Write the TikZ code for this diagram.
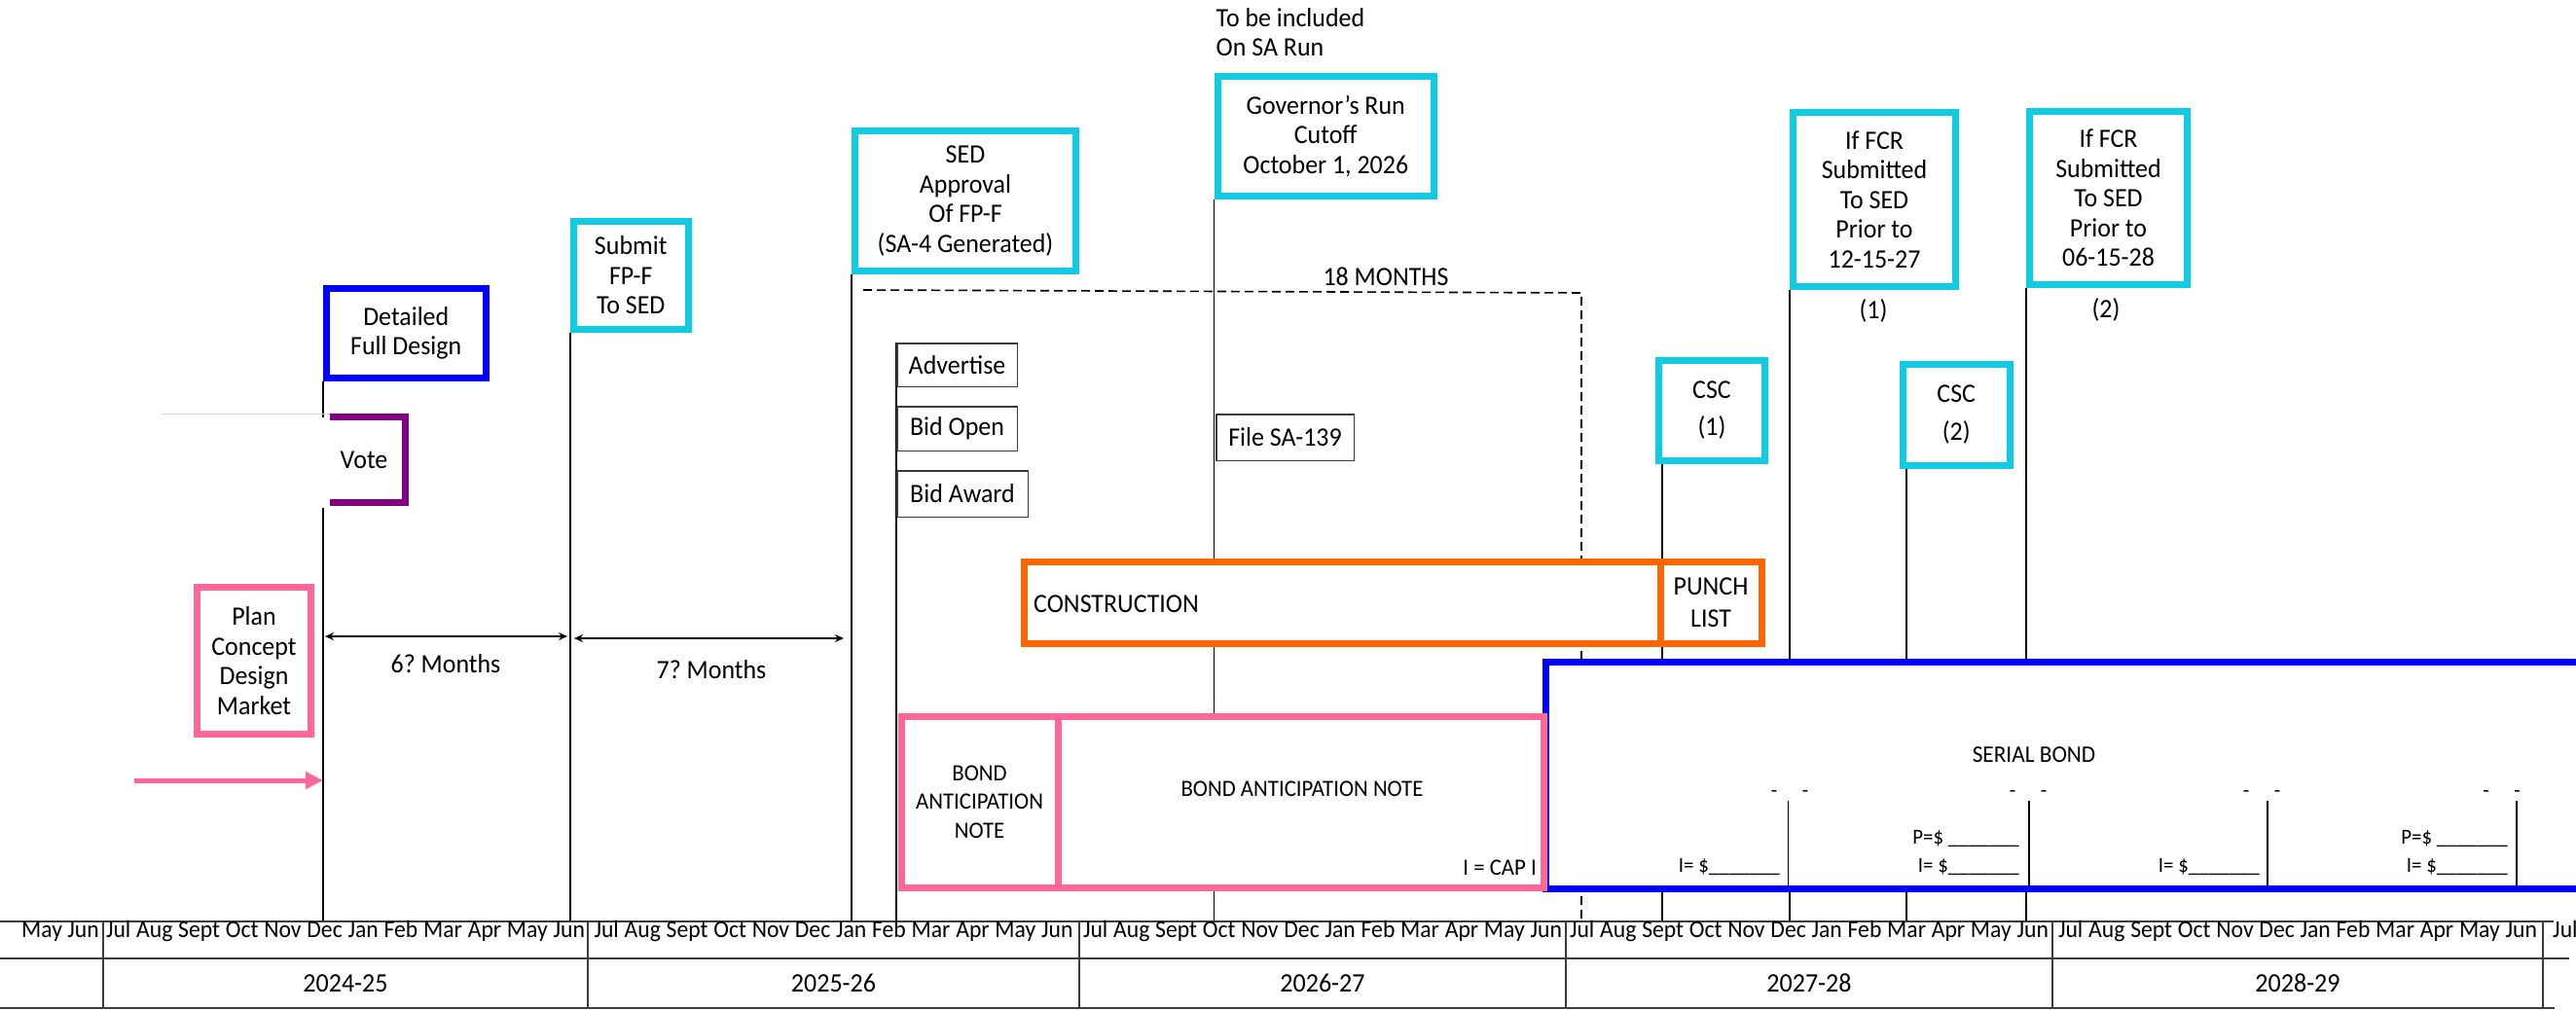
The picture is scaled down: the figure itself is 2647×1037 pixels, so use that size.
\documentclass[tikz,border=0pt]{standalone}
\usepackage{fontspec}
\setmainfont{Carlito}[FakeStretch=0.95]
\frenchspacing
\usetikzlibrary{arrows.meta}
\definecolor{pinkc}{RGB}{255,102,153}
\definecolor{cyanc}{RGB}{17,203,226}
\definecolor{bluec}{RGB}{0,0,255}
\definecolor{orangec}{RGB}{255,102,0}
\definecolor{purplec}{RGB}{128,0,128}
\definecolor{lavc}{RGB}{228,200,228}
\definecolor{gridc}{RGB}{60,60,60}
\newcommand\fsMain{\fontsize{27.3pt}{30.5pt}\selectfont}
\newcommand\fsBan{\fontsize{24pt}{29.5pt}\selectfont}
\newcommand\fsSer{\fontsize{24.5pt}{28pt}\selectfont}
\newcommand\fsSm{\fontsize{22pt}{25pt}\selectfont}
\newcommand\fsMonth{\fontsize{24.9pt}{28pt}\selectfont}
\newcommand\fsYear{\fontsize{27.4pt}{30pt}\selectfont}
\newcommand\monthrow{\makebox[492pt][s]{Jul Aug Sept Oct Nov Dec Jan Feb Mar Apr May Jun}}
\pgfdeclarelayer{bg}
\pgfsetlayers{bg,main}
\begin{document}
\begin{tikzpicture}[x=1pt,y=-1pt,
  every node/.style={inner sep=0pt, font=\fsMain},
  cbox/.style={draw=cyanc, line width=7pt, fill=white, align=center},
  bbox/.style={draw=bluec, line width=7pt, fill=white, align=center},
  pbox/.style={draw=pinkc, line width=7pt, fill=white, align=center},
  obox/.style={draw=orangec, line width=7pt, fill=white, align=center},
  sbox/.style={draw=gridc, line width=1.5pt, fill=white, align=center},
  vline/.style={draw=black, line width=1.6pt},
  gridline/.style={draw=gridc, line width=2pt},
  dashline/.style={draw=black, line width=1.6pt, dash pattern=on 9pt off 5pt},
  marrow/.style={draw=black, line width=1.6pt, {Stealth[length=9pt,width=8pt]}-{Stealth[length=9pt,width=8pt]}},
  pinkarrow/.style={draw=pinkc, line width=5pt, -{Triangle[length=18pt,width=17pt]}},
  smalltxt/.style={font=\fsSm, anchor=base east}
]
\clip (0,0) rectangle (2647,1037);
\begin{pgfonlayer}{bg}
\fill[white] (0,0) rectangle (2647,1037);
\end{pgfonlayer}

% ---------- time axis table ----------
\coordinate (axis) at (0,947);
\draw[gridline] (axis) -- (2624,947);
\draw[gridline] (0,984.5) -- (2640,984.5);
\draw[gridline] (0,1035.5) -- (2625,1035.5);
\foreach \x in {106,604,1109,1609,2109,2613} \draw[gridline] (\x,947) -- (\x,1036);
\foreach \l/\r/\yr [count=\i] in {106/604/2024-25,604/1109/2025-26,1109/1609/2026-27,1609/2109/2027-28,2109/2613/2028-29}{
  \node[font=\fsMonth, anchor=base] (mon\i) at ({(\l+\r)/2},963.5) {\monthrow};
  \node[font=\fsYear, anchor=base] (yr\i) at ({(\l+\r)/2},1019.5) {\yr};
}
\node[font=\fsMonth, anchor=base east] (mon0) at (102,963.5) {May Jun};
\node[font=\fsMonth, anchor=base west] (mon6) at (2623,963.5) {Jul};

% ---------- milestone boxes ----------
\node[bbox, minimum width=163.5pt, minimum height=92pt] (detailed) at (417.25,342.5) {Detailed\\Full Design};
\node[cbox, minimum width=117.5pt, minimum height=111pt] (submit) at (648.25,283) {Submit\\FP-F\\To SED};
\node[cbox, minimum width=227pt, minimum height=144pt] (sed) at (992,206.5) {SED\\Approval\\Of FP-F\\(SA-4 Generated)};
\node[cbox, minimum width=222.5pt, minimum height=123pt] (gov) at (1362.25,140) {Governor’s Run\\Cutoff\\October 1, 2026};
\node[anchor=base west] (incl1) at (1249.5,27) {To be included};
\node[anchor=base west] (incl2) at (1249.5,57.5) {On SA Run};
\node[cbox, minimum width=167pt, minimum height=179pt] (fcr1) at (1926,205) {If FCR\\Submitted\\To SED\\Prior to\\12-15-27};
\node[cbox, minimum width=162pt, minimum height=178pt] (fcr2) at (2166.5,203.5) {If FCR\\Submitted\\To SED\\Prior to\\06-15-28};
\node (fcr1n) at (1925,319) {(1)};
\node (fcr2n) at (2164,318) {(2)};
\node[cbox, minimum width=109pt, minimum height=103.5pt] (csc1) at (1759,421.75) {CSC\\[8pt](1)};
\node[cbox, minimum width=109.5pt, minimum height=104pt] (csc2) at (2010.25,426) {CSC\\[8pt](2)};
\node[pbox, minimum width=117pt, minimum height=151pt] (plan) at (261,679) {Plan\\Concept\\Design\\Market};

% vote bracket
\node[draw=none, outer sep=0pt, minimum width=77.5pt, minimum height=87.5pt] (votebox) at (377.75,472.25) {};
\node (vote) at (374,473) {Vote};
\coordinate (faint) at (166,425);
\draw[draw=lavc, line width=1pt] (faint) -- (faint -| votebox.west);
\draw[draw=purplec, line width=7pt] (votebox.north west) -- (votebox.north east) -- (votebox.south east) -- (votebox.south west);

% small task boxes
\node[sbox, minimum width=123.5pt, minimum height=44.5pt] (advertise) at (983.5,375) {Advertise};
\node[sbox, minimum width=123.5pt, minimum height=45.5pt] (bidopen) at (983.5,440.5) {Bid Open};
\node[sbox, minimum width=134.5pt, minimum height=47.5pt] (bidaward) at (989,507.5) {Bid Award};
\node[sbox, minimum width=141.5pt, minimum height=47.5pt] (filesa) at (1320.5,449.5) {File SA-139};

% construction
\node[obox, minimum width=654pt, minimum height=84pt] (constr) at (1379,619) {};
\node[anchor=west] (constrt) at (1062,621) {CONSTRUCTION};
\node[obox, minimum width=104pt, minimum height=84pt] (punch) at (1758,619) {PUNCH\\[2.5pt]LIST};

% serial bond
\node[draw=bluec, line width=7pt, fill=white, minimum width=1112pt, minimum height=233.5pt] (serial) at (2144,796.75) {};
\node[font=\fsSer] (sert) at (2090,776) {SERIAL BOND};
\foreach \cx/\nm in {1839/d1,2084/d2,2324/d3,2570.5/d4}
  \node[font=\fsSm, anchor=base] (\nm) at (\cx,819) {-\hspace{25.6pt}-};
\foreach \cx/\nm in {1837.5/s1,2085/s2,2330/s3,2586/s4}{
  \coordinate (\nm t) at (\cx,823);
  \coordinate (\nm b) at (\cx,910);
  \draw[vline] (\nm t) -- (\nm b);
}
\node[smalltxt] (i1) at (1829,896) {I= \$\_\_\_\_\_\_\_};
\node[smalltxt] (p2) at (2075,867) {P=\$ \_\_\_\_\_\_\_};
\node[smalltxt] (i2) at (2075,896) {I= \$\_\_\_\_\_\_\_};
\node[smalltxt] (i3) at (2322,896) {I= \$\_\_\_\_\_\_\_};
\node[smalltxt] (p4) at (2577,867) {P=\$ \_\_\_\_\_\_\_};
\node[smalltxt] (i4) at (2577,896) {I= \$\_\_\_\_\_\_\_};

% bond anticipation notes
\node[pbox, minimum width=161pt, minimum height=176pt, font=\fsBan] (ban1) at (1006.5,824) {BOND\\ANTICIPATION\\NOTE};
\node[pbox, minimum width=499pt, minimum height=176pt] (ban2) at (1336.5,824) {};
\node[font=\fsBan] (ban2t) at (1338,811) {BOND ANTICIPATION NOTE};
\node[font=\fsBan, anchor=base east] (capi) at (1579,899) {I = CAP I};

% arrows and labels
\coordinate (parrow) at (138,802);
\draw[pinkarrow] (parrow) -- (parrow -| detailed.south west);
\coordinate (m6l) at (334,654);
\coordinate (m6r) at (583,654);
\draw[marrow] (m6l) -- (m6r);
\node (m6t) at (458,682) {6? Months};
\coordinate (m7l) at (590,656);
\coordinate (m7r) at (867,656);
\draw[marrow] (m7l) -- (m7r);
\node (m7t) at (731,688) {7? Months};
\node[anchor=base] (m18) at (1424,293) {18 MONTHS};

% ---------- background connector lines ----------
\begin{pgfonlayer}{bg}
\draw[vline] (detailed.south west) -- (detailed.south west |- votebox.north);
\coordinate (vgap) at (332,522);
\draw[vline] (vgap) -- (vgap |- axis);
\draw[vline] (submit.south west) -- (submit.south west |- axis);
\draw[vline] (sed.south west) -- (sed.south west |- axis);
\draw[vline] (advertise.north west) -- (advertise.north west |- axis);
\draw[vline] (gov.south west) -- (gov.south west |- axis);
\draw[vline] ([xshift=7pt]csc1.south west) -- ([xshift=7pt]csc1.south west |- axis);
\draw[vline] (fcr1.south west) -- (fcr1.south west |- axis);
\draw[vline] ([xshift=7pt]csc2.south west) -- ([xshift=7pt]csc2.south west |- axis);
\draw[vline] (fcr2.south west) -- (fcr2.south west |- axis);
\coordinate (dstart) at (887,298);
\coordinate (dcorner) at (1625,301);
\draw[dashline] (dstart) -- (dcorner) -- (dcorner |- axis);
\end{pgfonlayer}
\end{tikzpicture}
\end{document}
